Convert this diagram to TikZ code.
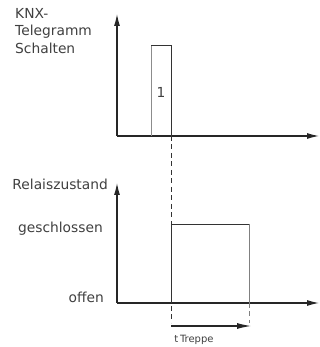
\documentclass[tikz,border=0pt]{standalone}
\usepackage{fontspec}
\setmainfont{DejaVu Sans}
\usetikzlibrary{arrows.meta}

\begin{document}
\begin{tikzpicture}[x=1pt,y=1pt,
  axis/.style={draw=black!85,line width=1.1pt,-{Latex[length=12pt,width=6pt]}},
  pulse/.style={draw=black!80,line width=0.8pt},
  guide/.style={draw=black!80,line width=0.7pt,dash pattern=on 5pt off 3.5pt},
  lbl/.style={text=black!75,font=\fontsize{13.8}{17.5}\selectfont,inner sep=0pt}]
  \useasboundingbox (0,0) rectangle (320,347);
  % upper diagram: KNX telegram
  \coordinate (o1) at (117,211);
  \draw[axis] (o1) -- (117,333);
  \draw[axis] (o1) -- (319,211);
  \draw[pulse,draw=black!45] (151,211) -- (151,302);
  \draw[pulse] (151,302) -- (171,302) -- (171,211);
  \node (one) at (161,255) [lbl] {1};
  \node (knx) at (15,339) [lbl,anchor=north west,align=left] {KNX-\\Telegramm\\Schalten};
  % lower diagram: relay state
  \coordinate (o2) at (117,44);
  \draw[axis] (o2) -- (117,164);
  \draw[axis] (o2) -- (319,44);
  \draw[pulse] (171,44) -- (171,123) -- (249,123);
  \draw[pulse,draw=black!50] (249,123) -- (249,44);
  \node (rel) at (108,163) [lbl,anchor=east] {Relaiszustand};
  \node (closed) at (103,118) [lbl,anchor=east] {geschlossen};
  \node (open) at (104,50) [lbl,anchor=east] {offen};
  % staircase time
  \draw[guide] (171,211) -- (171,24);
  \draw[guide,draw=black!50] (249,44) -- (249,24);
  \coordinate (t0) at (171,21);
  \coordinate (t1) at (251,21);
  \draw[draw=black!85,line width=1.1pt,-{Latex[length=14pt,width=6pt]}] (t0) -- (t1);
  \node (tt) at (194,7) [lbl,font=\fontsize{10}{12}\selectfont] {t\,Treppe};
\end{tikzpicture}
\end{document}
